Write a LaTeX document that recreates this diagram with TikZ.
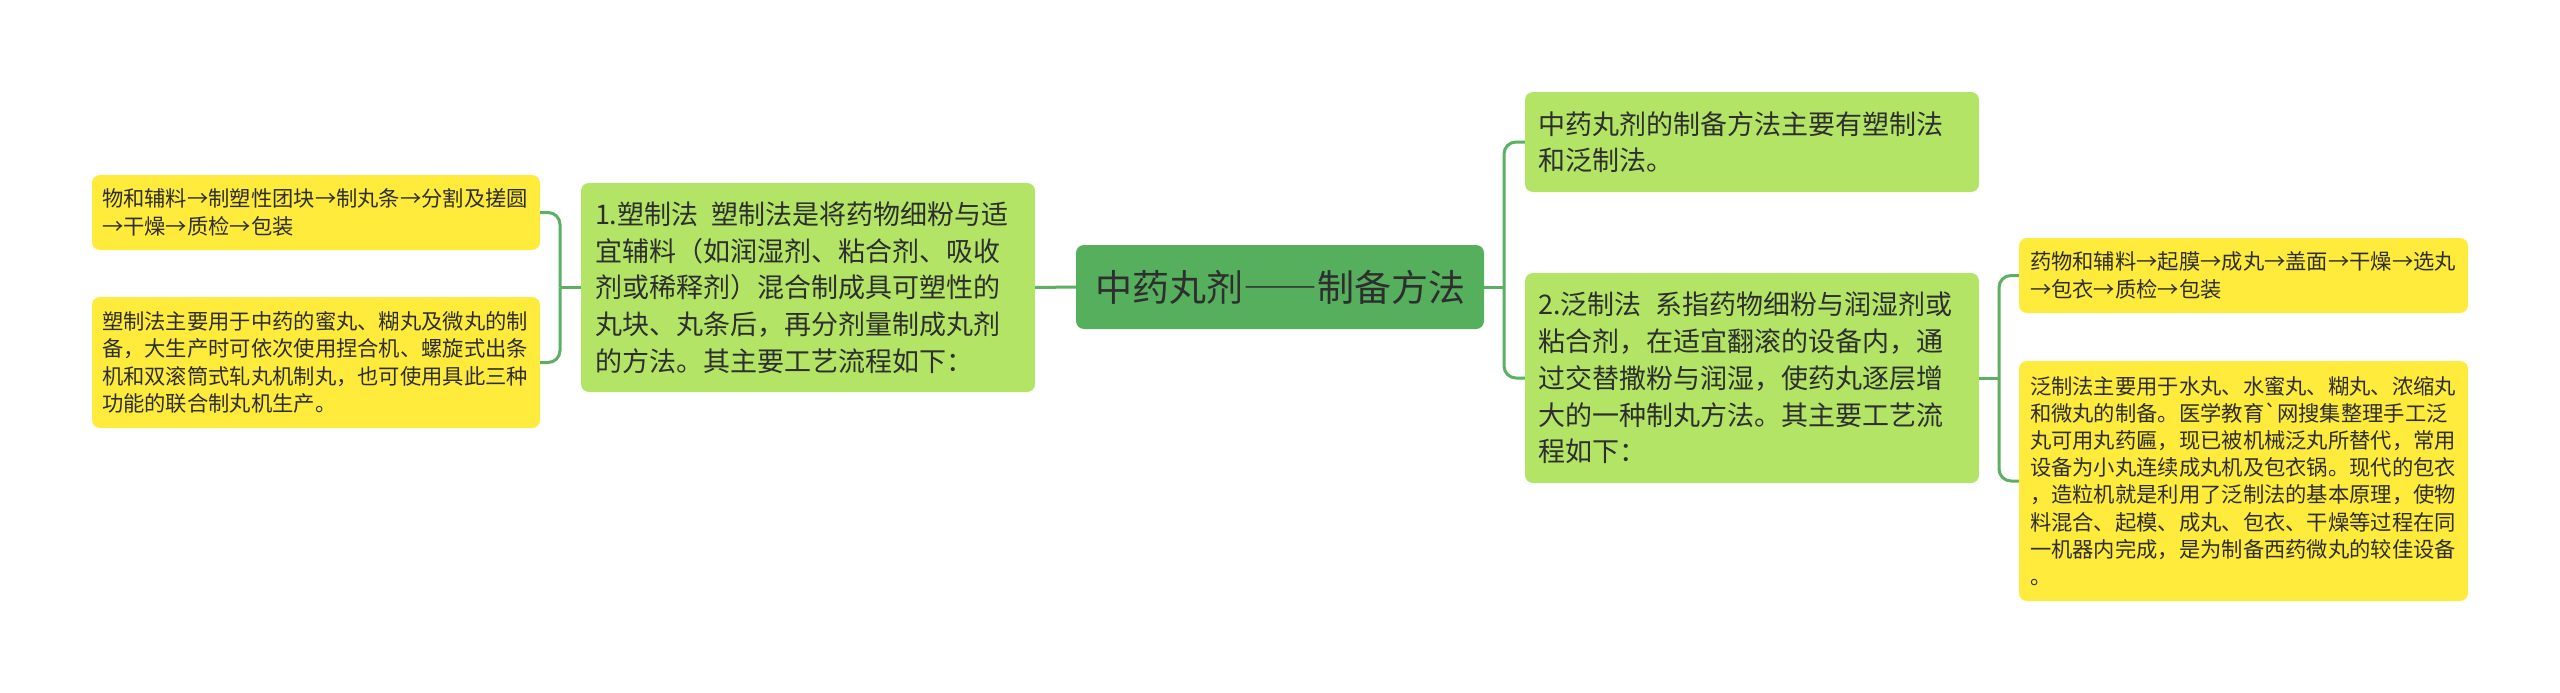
\documentclass[tikz,border=0pt]{standalone}
\usepackage{fontspec}
\newfontfamily\cjk{Noto Sans CJK SC}
\newfontfamily\cjkfw{Noto Sans CJK SC}[RawFeature=+fwid]
\newcommand\arr{\makebox[1em]{→}}
\definecolor{rootg}{HTML}{55AF5C}
\definecolor{lightg}{HTML}{B3E466}
\definecolor{yel}{HTML}{FFEB3B}
\definecolor{conng}{HTML}{5DAF63}
\definecolor{txt}{HTML}{2E2E2E}
\begin{document}
\begin{tikzpicture}[x=1pt,y=-1pt,
  box/.style={rectangle, rounded corners=8pt, inner ysep=0pt, align=left, text=txt},
  rootbox/.style={box, fill=rootg, align=center, inner xsep=19pt, text width=370pt, minimum height=84pt,
     font=\cjk\fontsize{37}{44}\selectfont},
  gbox/.style={box, fill=lightg, font=\cjk\fontsize{27}{36.7}\selectfont},
  ybox/.style={box, fill=yel, font=\cjk\fontsize{21.3}{27.2}\selectfont},
  conn/.style={draw=conng, line width=3pt, rounded corners=12pt}
]
\fill[white] (0,0) rectangle (2560,693);
\useasboundingbox (0,0) rectangle (2560,693);

\node[rootbox] (root) at (1280,287) {中药丸剂{\cjkfw ——}制备方法};

\node[gbox, inner xsep=14pt, text width=426pt, minimum height=209pt] (n1) at (808,287.5)
 {1.塑制法\hspace{0.5em}塑制法是将药物细粉与适\\
  宜辅料（如润湿剂、粘合剂、吸收\\
  剂或稀释剂）混合制成具可塑性的\\
  丸块、丸条后，再分剂量制成丸剂\\
  的方法。其主要工艺流程如下：};

\node[gbox, inner xsep=13pt, text width=428pt, minimum height=100pt] (r1) at (1752,142)
 {中药丸剂的制备方法主要有塑制法\\
  和泛制法。};

\node[gbox, inner xsep=13pt, text width=428pt, minimum height=210pt] (r2) at (1752,378)
 {2.泛制法\hspace{0.5em}系指药物细粉与润湿剂或\\
  粘合剂，在适宜翻滚的设备内，通\\
  过交替撒粉与润湿，使药丸逐层增\\
  大的一种制丸方法。其主要工艺流\\
  程如下：};

\node[ybox, inner xsep=10pt, text width=428pt, minimum height=75pt] (y1) at (316,212.5)
 {物和辅料\arr 制塑性团块\arr 制丸条\arr 分割及搓圆\\
  \arr 干燥\arr 质检\arr 包装};

\node[ybox, inner xsep=10pt, text width=428pt, minimum height=131pt] (y2) at (316,362.5)
 {塑制法主要用于中药的蜜丸、糊丸及微丸的制\\
  备，大生产时可依次使用捏合机、螺旋式出条\\
  机和双滚筒式轧丸机制丸，也可使用具此三种\\
  功能的联合制丸机生产。};

\node[ybox, inner xsep=11pt, text width=427pt, minimum height=75pt] (y3) at (2243.5,275.5)
 {药物和辅料\arr 起膜\arr 成丸\arr 盖面\arr 干燥\arr 选丸\\
  \arr 包衣\arr 质检\arr 包装};

\node[ybox, inner xsep=11pt, text width=427pt, minimum height=240pt] (y4) at (2243.5,481)
 {泛制法主要用于水丸、水蜜丸、糊丸、浓缩丸\\
  和微丸的制备。医学教育`网搜集整理手工泛\\
  丸可用丸药匾，现已被机械泛丸所替代，常用\\
  设备为小丸连续成丸机及包衣锅。现代的包衣\\
  ，造粒机就是利用了泛制法的基本原理，使物\\
  料混合、起模、成丸、包衣、干燥等过程在同\\
  一机器内完成，是为制备西药微丸的较佳设备\\
  。};

\coordinate (jr) at (1504,287);
\coordinate (jl) at (560,287.5);
\coordinate (jr2) at (1999,378);

\draw[conn] (root.west) -- (n1.east);
\draw[conn] (root.east) -- (jr);
\draw[conn] (jr) |- (r1.west);
\draw[conn] (jr) |- (r2.west);
\draw[conn] (n1.west) -- (jl);
\draw[conn] (jl) |- (y1.east);
\draw[conn] (jl) |- (y2.east);
\draw[conn] (r2.east) -- (jr2);
\draw[conn] (jr2) |- (y3.west);
\draw[conn] (jr2) |- (y4.west);
\end{tikzpicture}
\end{document}
